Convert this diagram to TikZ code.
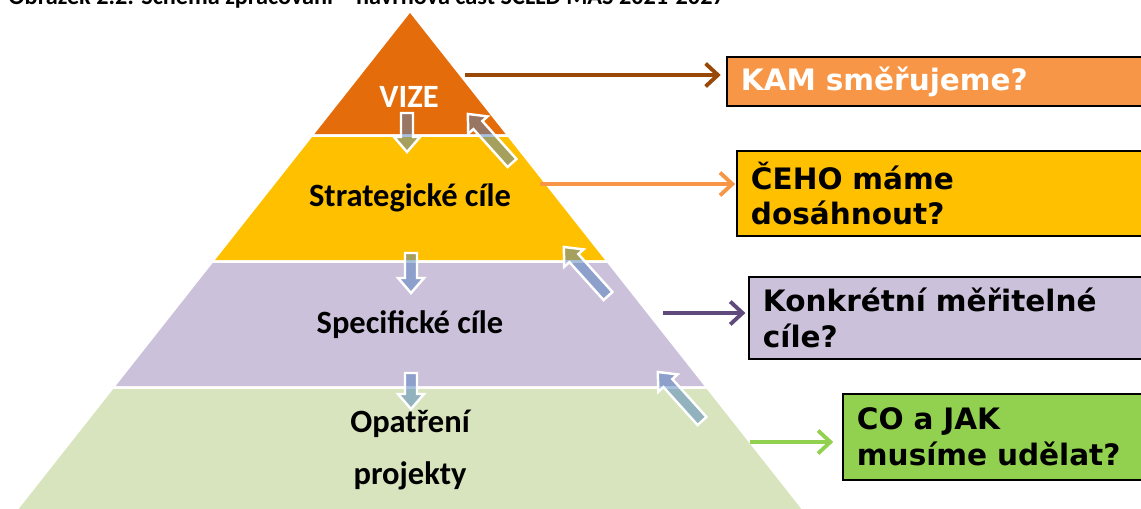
\documentclass[tikz,border=0pt]{standalone}
\usepackage{fontspec}
\setmainfont{Carlito}
\newfontfamily\qfont{DejaVu Sans}
\usetikzlibrary{positioning, arrows.meta}
\definecolor{vizeor}{HTML}{E46C0A}
\definecolor{goalyel}{HTML}{FFC000}
\definecolor{specpur}{HTML}{CCC1DA}
\definecolor{actgreen}{HTML}{D7E4BD}
\definecolor{kamor}{HTML}{F79646}
\definecolor{cogreen}{HTML}{92D050}
\definecolor{brownline}{HTML}{984807}
\definecolor{purline}{HTML}{604A7B}
\definecolor{liftblue}{HTML}{4F81BD}
\tikzstyle{level} = [font=\bfseries\fontsize{18.5}{29.5}\selectfont, align=center]
\tikzstyle{question} = [rectangle, anchor=north west, draw=black, line width=1.1pt, align=left, inner xsep=0.28cm, inner ysep=0pt, font=\qfont\bfseries\fontsize{16.8}{20.4}\selectfont]
\tikzstyle{arrow} = [line width=2.2pt, -{Straight Barb[length=7pt, width=13pt, line width=2.2pt]}]
\tikzstyle{lift} = [draw=white, line width=1.4pt, fill=liftblue, fill opacity=0.5]
% block arrow: tail x, tail y, angle, length
\newcommand{\liftarrow}[4]{%
  \begin{scope}[shift={(#1,#2)}, rotate=#3]
    \draw[lift] (0,-6) -- (#4-15,-6) -- (#4-15,-13) -- (#4,0) -- (#4-15,13) -- (#4-15,6) -- (0,6) -- cycle;
  \end{scope}}

\begin{document}
\begin{tikzpicture}[x=0.02cm, y=-0.02cm]
    \useasboundingbox (0,0) rectangle (1141,508);
    % caption, cut off at the top
    \node (caption) [anchor=base west, inner sep=0pt, font=\bfseries\fontsize{13.8}{15}\selectfont] at (8,4) {Obrázek 2.2: Schéma zpracování – návrhová část SCLLD MAS 2021-2027};
    % pyramid
    \fill[vizeor] (410,13) -- (505.5,134) -- (314.5,134) -- cycle;
    \fill[goalyel] (312.2,137) -- (507.8,137) -- (604.9,260) -- (215.1,260) -- cycle;
    \fill[specpur] (212.7,263) -- (607.3,263) -- (704.3,386) -- (115.7,386) -- cycle;
    \fill[actgreen] (113.3,389) -- (706.7,389) -- (810,520) -- (10,520) -- cycle;
    \node (vize) [level, text=white] at (409,97) {VIZE};
    \node (strat) [level] at (410,198) {Strategické cíle};
    \node (spec) [level] at (410,325) {Specifické cíle};
    \node (opat) [level] at (410,450) {Opatření\\projekty};
    % questions
    \node (kam) [question, fill=kamor, text=white, minimum height=0.98cm, text width=8.12cm] at (726,56) {KAM směřujeme?};
    \node (ceho) [question, fill=goalyel, minimum height=1.7cm, text width=7.92cm] at (736,150) {ČEHO máme\\dosáhnout?};
    \node (konk) [question, fill=specpur, minimum height=1.64cm, text width=7.68cm] at (748,276) {Konkrétní měřitelné\\cíle?};
    \node (coj) [question, fill=cogreen, minimum height=1.72cm, text width=5.76cm] at (842,393) {CO a JAK\\musíme udělat?};
    \coordinate (o1) at (465,75);
    \coordinate (o2) at (540,184);
    \coordinate (o3) at (663,313);
    \coordinate (o4) at (750,442);
    \draw[arrow, brownline, shorten >=3pt] (o1) -- (o1 -| kam.west);
    \draw[arrow, kamor, shorten >=0.5pt] (o2) -- (o2 -| ceho.west);
    \draw[arrow, purline, shorten >=1.5pt] (o3) -- (o3 -| konk.west);
    \draw[arrow, cogreen, shorten >=5pt] (o4) -- (o4 -| coj.west);
    % block arrows down and up
    \liftarrow{407}{113}{-90}{39}
    \liftarrow{411}{253}{-90}{40}
    \liftarrow{411}{373}{-90}{36}
    \liftarrow{512}{163}{132}{66}
    \liftarrow{608}{296}{132}{66}
    \liftarrow{702}{421}{132}{66}
\end{tikzpicture}
\end{document}
